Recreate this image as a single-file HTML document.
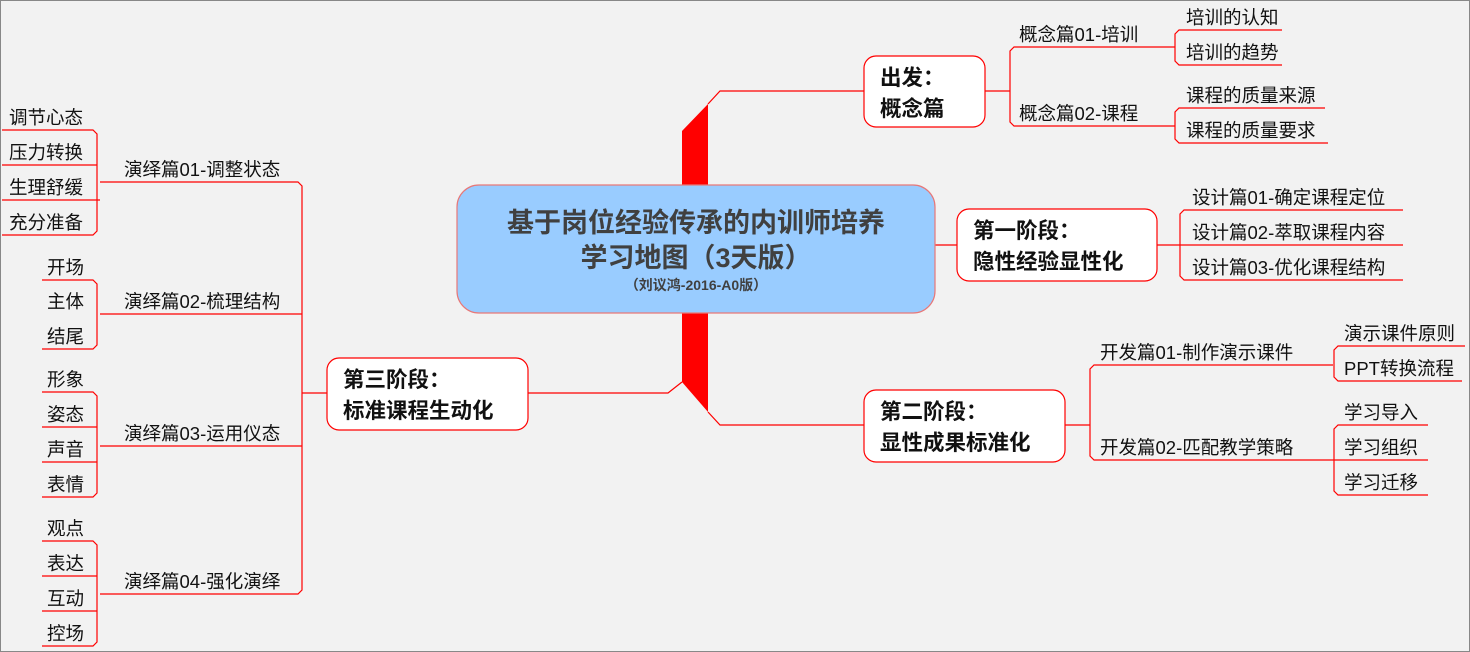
<!DOCTYPE html>
<html><head><meta charset="utf-8"><style>
html,body{margin:0;padding:0;background:#f2f2f2;}
svg{display:block;}
text{font-family:"Liberation Sans","Noto Sans CJK SC",sans-serif;fill:#111;}
.l{font-size:18.5px;}
.b{font-size:21.5px;font-weight:bold;}
</style></head><body>
<svg width="1470" height="652" viewBox="0 0 1470 652" xmlns="http://www.w3.org/2000/svg">
<rect x="0.5" y="0.5" width="1469" height="651" fill="#f2f2f2" stroke="#888"/>
<g fill="none" stroke="#f00" stroke-width="1.2">
<polyline points="708,104 720,91 864,91"/>
<polyline points="708,412 720,425 864,425"/>
<polyline points="682,382 668,393 528,393"/>
<line x1="935" y1="245" x2="957" y2="245"/>
<polyline points="985,91 1010,91"/>
<polyline points="1150,47 1014,47 1010,51 1010,122 1014,126 1150,126"/>
<polyline points="1282,30 1179,30 1175,34 1175,61 1179,65 1282,65"/>
<line x1="1150" y1="47" x2="1175" y2="47"/>
<polyline points="1325,108 1179,108 1175,112 1175,139 1179,143 1328,143"/>
<line x1="1150" y1="126" x2="1175" y2="126"/>
<polyline points="1157,245 1403,245"/>
<polyline points="1403,210 1184,210 1180,214 1180,276 1184,280 1403,280"/>
<polyline points="1065,425 1090,425"/>
<polyline points="1333,365 1094,365 1090,369 1090,456 1094,460 1333,460"/>
<polyline points="1465,346 1338,346 1334,350 1334,377 1338,381 1462,381"/>
<polyline points="1428,425 1338,425 1334,429 1334,491 1338,495 1428,495"/>
<line x1="1333" y1="460" x2="1428" y2="460"/>
<polyline points="327,393 302,393"/>
<polyline points="100,182 298,182 302,186 302,590 298,594 100,594"/>
<line x1="100" y1="314" x2="302" y2="314"/>
<line x1="100" y1="446" x2="302" y2="446"/>
<polyline points="2,130 93,130 97,134 97,231 93,235 2,235"/>
<line x1="2" y1="165" x2="97" y2="165"/><line x1="2" y1="200" x2="100" y2="200"/>
<polyline points="42,280 93,280 97,284 97,345 93,349 42,349"/>
<polyline points="42,392 93,392 97,396 97,493 93,497 42,497"/>
<line x1="42" y1="427" x2="97" y2="427"/><line x1="42" y1="462" x2="97" y2="462"/>
<polyline points="42,541 93,541 97,545 97,642 93,646 42,646"/>
<line x1="42" y1="576" x2="97" y2="576"/><line x1="42" y1="611" x2="97" y2="611"/>
</g>
<polygon points="682,131 708,104 708,185 682,185" fill="#f00"/>
<polygon points="682,313 708,313 708,412 682,382" fill="#f00"/>
<rect x="457" y="185" width="478" height="128" rx="22" fill="#99ccff" stroke="#e87878" stroke-width="1.2"/>
<text x="696" y="232" text-anchor="middle" style="font-size:27px;font-weight:bold;fill:#404040">基于岗位经验传承的内训师培养</text>
<text x="696" y="267" text-anchor="middle" style="font-size:27px;font-weight:bold;fill:#404040">学习地图（3天版）</text>
<text x="696" y="290" text-anchor="middle" style="font-size:14px;font-weight:bold;fill:#404040">（刘议鸿-2016-A0版）</text>
<g fill="#fff" stroke="#f00" stroke-width="1.2">
<rect x="864" y="56" width="121" height="71" rx="12"/>
<rect x="957" y="209" width="200" height="72" rx="12"/>
<rect x="864" y="390" width="201" height="72" rx="12"/>
<rect x="327" y="358" width="201" height="72" rx="12"/>
</g>
<text class="b" x="880" y="85">出发：</text><text class="b" x="880" y="116">概念篇</text>
<text class="b" x="973" y="238">第一阶段：</text><text class="b" x="973" y="269">隐性经验显性化</text>
<text class="b" x="880" y="419">第二阶段：</text><text class="b" x="880" y="450">显性成果标准化</text>
<text class="b" x="343" y="387">第三阶段：</text><text class="b" x="343" y="418">标准课程生动化</text>
<g>
<text class="l" x="1019" y="41">概念篇01-培训</text>
<text class="l" x="1019" y="120">概念篇02-课程</text>
<text class="l" x="1186" y="24">培训的认知</text>
<text class="l" x="1186" y="59">培训的趋势</text>
<text class="l" x="1186" y="102">课程的质量来源</text>
<text class="l" x="1186" y="137">课程的质量要求</text>
<text class="l" x="1192" y="204">设计篇01-确定课程定位</text>
<text class="l" x="1192" y="239">设计篇02-萃取课程内容</text>
<text class="l" x="1192" y="274">设计篇03-优化课程结构</text>
<text class="l" x="1100" y="359">开发篇01-制作演示课件</text>
<text class="l" x="1100" y="454">开发篇02-匹配教学策略</text>
<text class="l" x="1344" y="340">演示课件原则</text>
<text class="l" x="1344" y="375">PPT转换流程</text>
<text class="l" x="1344" y="419">学习导入</text>
<text class="l" x="1344" y="454">学习组织</text>
<text class="l" x="1344" y="489">学习迁移</text>
<text class="l" x="124" y="176">演绎篇01-调整状态</text>
<text class="l" x="124" y="308">演绎篇02-梳理结构</text>
<text class="l" x="124" y="440">演绎篇03-运用仪态</text>
<text class="l" x="124" y="588">演绎篇04-强化演绎</text>
<text class="l" x="9" y="124">调节心态</text>
<text class="l" x="9" y="159">压力转换</text>
<text class="l" x="9" y="194">生理舒缓</text>
<text class="l" x="9" y="229">充分准备</text>
<text class="l" x="47" y="274">开场</text>
<text class="l" x="47" y="308">主体</text>
<text class="l" x="47" y="343">结尾</text>
<text class="l" x="47" y="386">形象</text>
<text class="l" x="47" y="421">姿态</text>
<text class="l" x="47" y="456">声音</text>
<text class="l" x="47" y="491">表情</text>
<text class="l" x="47" y="535">观点</text>
<text class="l" x="47" y="570">表达</text>
<text class="l" x="47" y="605">互动</text>
<text class="l" x="47" y="640">控场</text>
</g>
</svg>
</body></html>
